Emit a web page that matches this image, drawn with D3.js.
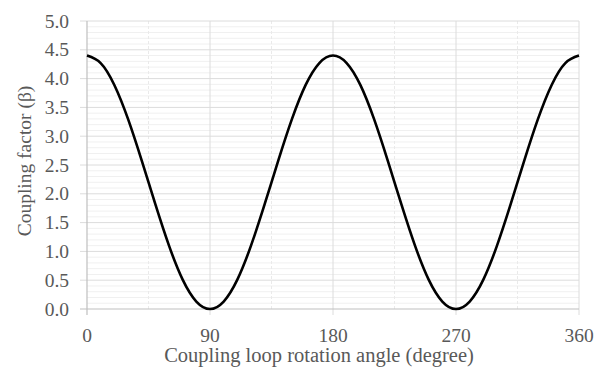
<!DOCTYPE html>
<html>
<head>
<meta charset="utf-8">
<script src="https://cdn.jsdelivr.net/npm/d3@7"></script>
<style>
  body { margin: 0; background: #fff; }
  svg text { font-family: "Liberation Serif", "Times New Roman", serif; fill: #595959; }
</style>
</head>
<body>
<div id="chart"></div>
<script>
// Data, every 10 degrees
const angles = [0, 10, 20, 30, 40, 50, 60, 70, 80, 90,
  100, 110, 120, 130, 140, 150, 160, 170, 180,
  190, 200, 210, 220, 230, 240, 250, 260, 270,
  280, 290, 300, 310, 320, 330, 340, 350, 360];
const beta = [4.40, 4.27, 3.89, 3.30, 2.58, 1.82, 1.10, 0.51, 0.13, 0.00,
  0.13, 0.51, 1.10, 1.82, 2.58, 3.30, 3.89, 4.27, 4.40,
  4.27, 3.89, 3.30, 2.58, 1.82, 1.10, 0.51, 0.13, 0.00,
  0.13, 0.51, 1.10, 1.82, 2.58, 3.30, 3.89, 4.27, 4.40];
const xTicks = [0, 90, 180, 270, 360];
const yTicks = [0, 0.5, 1, 1.5, 2, 2.5, 3, 3.5, 4, 4.5, 5];

const width = 596, height = 370;
const margin = { top: 21, right: 17, bottom: 61, left: 87 };

const svg = d3.select("#chart").append("svg")
  .attr("width", width)
  .attr("height", height);

const x = d3.scaleLinear().domain([0, 360]).range([margin.left, width - margin.right]);
const y = d3.scaleLinear().domain([0, 5]).range([height - margin.bottom, margin.top]);

// minor horizontal grid (0.1 steps)
svg.append("g")
  .selectAll("line")
  .data(d3.range(0, 50).map(i => i / 10).filter(v => Math.round(v * 10) % 5 !== 0))
  .join("line")
  .attr("x1", x(0)).attr("x2", x(360))
  .attr("y1", d => y(d)).attr("y2", d => y(d))
  .attr("stroke", "#f0f0f0").attr("stroke-width", 1);

// minor vertical grid (45 deg)
svg.append("g")
  .selectAll("line")
  .data([45, 135, 225, 315])
  .join("line")
  .attr("x1", d => x(d)).attr("x2", d => x(d))
  .attr("y1", y(0)).attr("y2", y(5))
  .attr("stroke", "#eaeaea").attr("stroke-width", 1)
  .attr("stroke-dasharray", "3,2");

// major horizontal grid + left ticks
svg.append("g")
  .selectAll("line")
  .data(yTicks.slice(1))
  .join("line")
  .attr("x1", x(0) - 7).attr("x2", x(360))
  .attr("y1", d => y(d)).attr("y2", d => y(d))
  .attr("stroke", "#dcdcdc").attr("stroke-width", 1);

// major vertical grid
svg.append("g")
  .selectAll("line")
  .data(xTicks.slice(1))
  .join("line")
  .attr("x1", d => x(d)).attr("x2", d => x(d))
  .attr("y1", y(0) + 6).attr("y2", y(5))
  .attr("stroke", "#dcdcdc").attr("stroke-width", 1);

// axis lines
svg.append("line")
  .attr("x1", x(0)).attr("x2", x(0))
  .attr("y1", y(5)).attr("y2", y(0) + 6)
  .attr("stroke", "#bfbfbf").attr("stroke-width", 1.2);
svg.append("line")
  .attr("x1", x(0) - 7).attr("x2", x(360))
  .attr("y1", y(0)).attr("y2", y(0))
  .attr("stroke", "#bfbfbf").attr("stroke-width", 1.2);

// tick labels
svg.append("g")
  .selectAll("text")
  .data(yTicks)
  .join("text")
  .attr("x", x(0) - 18)
  .attr("y", d => y(d) + 6.5)
  .attr("text-anchor", "end")
  .style("font-size", "19.5px")
  .text(d => d.toFixed(1));

svg.append("g")
  .selectAll("text")
  .data(xTicks)
  .join("text")
  .attr("x", d => x(d))
  .attr("y", y(0) + 33)
  .attr("text-anchor", "middle")
  .style("font-size", "19.5px")
  .text(d => d);

// axis titles
svg.append("text")
  .attr("x", (x(0) + x(360)) / 2 - 14)
  .attr("y", height - 8)
  .attr("text-anchor", "middle")
  .style("font-size", "20.5px")
  .text("Coupling loop rotation angle (degree)");

svg.append("text")
  .attr("transform", `translate(31, 161) rotate(-90)`)
  .attr("text-anchor", "middle")
  .style("font-size", "19.5px")
  .text("Coupling factor (β)");

// curve
const line = d3.line()
  .x((d, i) => x(angles[i]))
  .y(d => y(d))
  .curve(d3.curveNatural);

svg.append("path")
  .datum(beta)
  .attr("d", line)
  .attr("fill", "none")
  .attr("stroke", "#000")
  .attr("stroke-width", 2.6);
</script>
</body>
</html>
